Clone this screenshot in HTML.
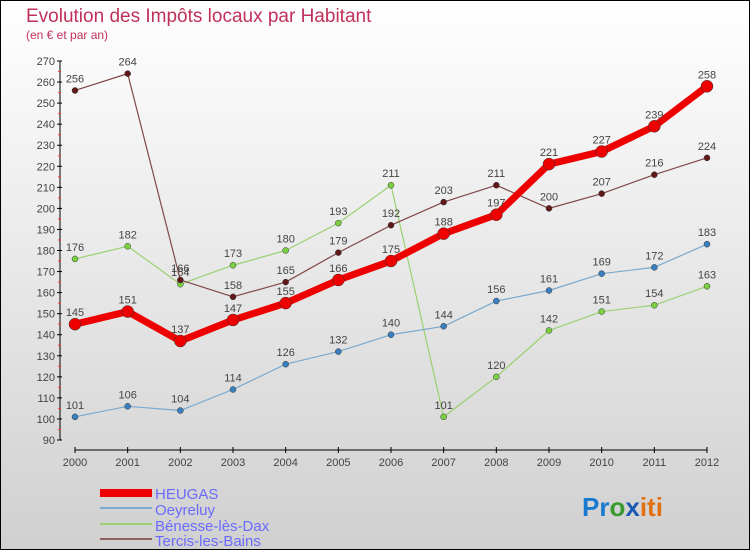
<!DOCTYPE html>
<html><head><meta charset="utf-8"><style>
html,body{margin:0;padding:0}
body{width:750px;height:550px;overflow:hidden;font-family:"Liberation Sans",sans-serif}
</style></head><body>
<svg width="750" height="550" xmlns="http://www.w3.org/2000/svg">
<defs><linearGradient id="bg" x1="0" y1="0" x2="0" y2="1"><stop offset="0" stop-color="#ffffff"/><stop offset="1" stop-color="#d0d0d0"/></linearGradient></defs>
<rect x="0.5" y="0.5" width="749" height="549" fill="url(#bg)" stroke="#000"/>
<text x="26" y="22" font-size="19" fill="#c0305a">Evolution des Impôts locaux par Habitant</text>
<text x="26" y="39" font-size="12" fill="#c0305a">(en € et par an)</text>
<g id="axes"></g>
<g id="series"></g>
<g>
<rect x="100" y="489" width="52" height="8" fill="#e00"/>
<text x="155" y="499" font-size="15" fill="#6a6aff">HEUGAS</text>
<rect x="100" y="507" width="52" height="2" fill="#7aaad0"/>
<text x="155" y="515" font-size="15" fill="#6a6aff">Oeyreluy</text>
<rect x="100" y="523" width="52" height="2" fill="#9ad070"/>
<text x="155" y="531" font-size="15" fill="#6a6aff">Bénesse-lès-Dax</text>
<rect x="100" y="538" width="52" height="2" fill="#906060"/>
<text x="155" y="546" font-size="15" fill="#6a6aff">Tercis-les-Bains</text>
</g>
<text x="582" y="516" font-size="26" font-weight="bold"><tspan fill="#1a7ad0">Pr</tspan><tspan fill="#3a9a30">o</tspan><tspan fill="#1a5ab0">x</tspan><tspan fill="#e07010">iti</tspan></text>
</svg>
<script>
const years=[2000,2001,2002,2003,2004,2005,2006,2007,2008,2009,2010,2011,2012];
const yTicks=[90,100,110,120,130,140,150,160,170,180,190,200,210,220,230,240,250,260,270];
const heugas=[145,151,137,147,155,166,175,188,197,221,227,239,258];
const oeyreluy=[101,106,104,114,126,132,140,144,156,161,169,172,183];
const benesse=[176,182,164,173,180,193,211,101,120,142,151,154,163];
const tercis=[256,264,166,158,165,179,192,203,211,200,207,216,224];
const NS="http://www.w3.org/2000/svg";
const xS=i=>75+i*(707-75)/(years.length-1);
const yS=v=>440-(v-90)*(379/180);
function mk(t,a,p){const e=document.createElementNS(NS,t);for(const k in a)e.setAttribute(k,a[k]);p.appendChild(e);return e;}
const ax=document.getElementById('axes');
let yl=mk('line',{x1:60,y1:yS(270),x2:60,y2:yS(90),stroke:'#000'},ax);


yTicks.forEach(v=>{
 mk('line',{x1:57,y1:yS(v),x2:62,y2:yS(v),stroke:'#000'},ax);
 if(v<270)mk('line',{x1:58,y1:yS(v+5),x2:61,y2:yS(v+5),stroke:'#f33'},ax);
 const t=mk('text',{x:55,y:yS(v)+4,'font-size':11,fill:'#444','text-anchor':'end'},ax);
 t.textContent=v;
 
 
});
let xl=mk('line',{x1:75,y1:450,x2:707,y2:450,stroke:'#000'},ax);


years.forEach((y,i)=>{
 mk('line',{x1:xS(i),y1:447,x2:xS(i),y2:453,stroke:'#000'},ax);
 const t=mk('text',{x:xS(i),y:466,'font-size':11,fill:'#444','text-anchor':'middle'},ax);
 t.textContent=y;
 
 
});
const sg=document.getElementById('series');
function draw(data,name,color,dot,w,r){
 const g=mk('g',{},sg);
 
 
 const pl=mk('polyline',{points:data.map((v,i)=>xS(i)+','+yS(v)).join(' '),fill:'none',stroke:color,'stroke-width':w,'stroke-linejoin':'round'},g);
 
 
 data.forEach((v,i)=>{
  const c=mk('circle',{cx:xS(i),cy:yS(v),r:r,fill:dot,stroke:'#333','stroke-width':0.5},g);
  
  
  const t=mk('text',{x:xS(i),y:yS(v)-8,'font-size':11,fill:'#444','text-anchor':'middle'},g);
  t.textContent=v;
  
  
 });
}
draw(benesse,'benesse','#9ad070','#7ad040',1.2,3);
draw(tercis,'tercis','#804848','#601818',1.2,3);
draw(oeyreluy,'oeyreluy','#7aaad0','#3a80c0',1.2,3);
draw(heugas,'heugas','#ee0000','#ee0000',7,6);
</script>
</body></html>
